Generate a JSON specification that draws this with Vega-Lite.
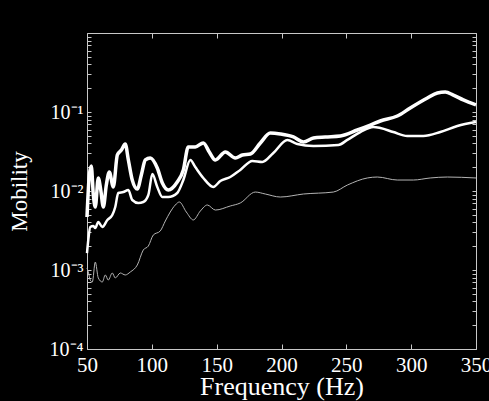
{
  "$schema": "https://vega.github.io/schema/vega-lite/v6.json",
  "width": 389,
  "height": 316,
  "autosize": "none",
  "padding": {"left": 87, "top": 33, "right": 13, "bottom": 52},
  "background": "black",
  "config": {
    "view": {"stroke": null},
    "font": "Liberation Serif",
    "axis": {
      "grid": false,
      "domainColor": "#c8c8c8",
      "tickColor": "#c8c8c8",
      "labelColor": "white",
      "labelFont": "Liberation Serif",
      "labelFontSize": 20,
      "titleColor": "white",
      "titleFont": "Liberation Serif",
      "titleFontSize": 23,
      "titleFontWeight": "normal"
    }
  },
  "datasets": {
    "mob": [
      {"f":50,"m":0.00469,"s":"A"},{"f":51.8,"m":0.01596,"s":"A"},{"f":53.3,"m":0.0207,"s":"A"},{"f":54.9,"m":0.00889,"s":"A"},{"f":56.4,"m":0.00627,"s":"A"},{"f":58.7,"m":0.01462,"s":"A"},{"f":60.6,"m":0.0103,"s":"A"},{"f":62.6,"m":0.00627,"s":"A"},{"f":64.9,"m":0.0119,"s":"A"},{"f":67.2,"m":0.01742,"s":"A"},{"f":70.3,"m":0.01125,"s":"A"},{"f":73.4,"m":0.0286,"s":"A"},{"f":76.5,"m":0.033,"s":"A"},{"f":79.5,"m":0.0394,"s":"A"},{"f":81.9,"m":0.0247,"s":"A"},{"f":84.9,"m":0.01377,"s":"A"},{"f":88.8,"m":0.01059,"s":"A"},{"f":91.9,"m":0.01596,"s":"A"},{"f":95,"m":0.0247,"s":"A"},{"f":98.8,"m":0.0262,"s":"A"},{"f":104.2,"m":0.01954,"s":"A"},{"f":108.1,"m":0.01262,"s":"A"},{"f":112.7,"m":0.0103,"s":"A"},{"f":119.6,"m":0.013,"s":"A"},{"f":124.3,"m":0.01845,"s":"A"},{"f":128.1,"m":0.0361,"s":"A"},{"f":133.5,"m":0.0361,"s":"A"},{"f":139.7,"m":0.0406,"s":"A"},{"f":144.3,"m":0.0312,"s":"A"},{"f":149,"m":0.0247,"s":"A"},{"f":156.7,"m":0.0312,"s":"A"},{"f":164.4,"m":0.0262,"s":"A"},{"f":169.8,"m":0.0286,"s":"A"},{"f":176,"m":0.0294,"s":"A"},{"f":183.7,"m":0.0406,"s":"A"},{"f":191.4,"m":0.0542,"s":"A"},{"f":199.1,"m":0.0527,"s":"A"},{"f":209.2,"m":0.0483,"s":"A"},{"f":216.9,"m":0.0417,"s":"A"},{"f":224.6,"m":0.0469,"s":"A"},{"f":233.8,"m":0.0483,"s":"A"},{"f":245.4,"m":0.0497,"s":"A"},{"f":258.5,"m":0.0592,"s":"A"},{"f":268.5,"m":0.0684,"s":"A"},{"f":276.2,"m":0.0769,"s":"A"},{"f":289.3,"m":0.0889,"s":"A"},{"f":299.3,"m":0.1125,"s":"A"},{"f":312.5,"m":0.1503,"s":"A"},{"f":320.2,"m":0.1742,"s":"A"},{"f":326.3,"m":0.179,"s":"A"},{"f":332.5,"m":0.164,"s":"A"},{"f":340.2,"m":0.142,"s":"A"},{"f":350,"m":0.1227,"s":"A"},
      {"f":50,"m":0.00164,"s":"B"},{"f":51,"m":0.0024,"s":"B"},{"f":52.5,"m":0.0035,"s":"B"},{"f":54.9,"m":0.00361,"s":"B"},{"f":56.4,"m":0.0034,"s":"B"},{"f":58.7,"m":0.00406,"s":"B"},{"f":61.8,"m":0.0035,"s":"B"},{"f":65.7,"m":0.0043,"s":"B"},{"f":69.5,"m":0.00497,"s":"B"},{"f":71.8,"m":0.00627,"s":"B"},{"f":74.1,"m":0.00944,"s":"B"},{"f":78,"m":0.0097,"s":"B"},{"f":81.9,"m":0.0103,"s":"B"},{"f":84.9,"m":0.00769,"s":"B"},{"f":89.6,"m":0.00705,"s":"B"},{"f":93.4,"m":0.00726,"s":"B"},{"f":97.3,"m":0.00889,"s":"B"},{"f":100.4,"m":0.0164,"s":"B"},{"f":104.2,"m":0.01125,"s":"B"},{"f":108.1,"m":0.00839,"s":"B"},{"f":112.7,"m":0.00839,"s":"B"},{"f":119.6,"m":0.00944,"s":"B"},{"f":124.3,"m":0.01377,"s":"B"},{"f":129.7,"m":0.0247,"s":"B"},{"f":133.5,"m":0.0201,"s":"B"},{"f":139.7,"m":0.01462,"s":"B"},{"f":147.4,"m":0.01125,"s":"B"},{"f":152.8,"m":0.0134,"s":"B"},{"f":160.5,"m":0.01503,"s":"B"},{"f":168.2,"m":0.01845,"s":"B"},{"f":177.5,"m":0.024,"s":"B"},{"f":185.2,"m":0.0233,"s":"B"},{"f":193.7,"m":0.0303,"s":"B"},{"f":204.5,"m":0.0443,"s":"B"},{"f":212.2,"m":0.0394,"s":"B"},{"f":224.6,"m":0.0372,"s":"B"},{"f":243.8,"m":0.0382,"s":"B"},{"f":250.8,"m":0.0443,"s":"B"},{"f":260.8,"m":0.0558,"s":"B"},{"f":270.8,"m":0.0646,"s":"B"},{"f":276.2,"m":0.0627,"s":"B"},{"f":286.2,"m":0.0558,"s":"B"},{"f":297,"m":0.0497,"s":"B"},{"f":309.4,"m":0.0497,"s":"B"},{"f":322.5,"m":0.0558,"s":"B"},{"f":335.6,"m":0.0665,"s":"B"},{"f":350,"m":0.0746,"s":"B"},
      {"f":50,"m":0.00106,"s":"C"},{"f":51,"m":0.000944,"s":"C"},{"f":52.5,"m":0.000746,"s":"C"},{"f":54.1,"m":0.000705,"s":"C"},{"f":56.4,"m":0.001262,"s":"C"},{"f":58.7,"m":0.000793,"s":"C"},{"f":61.8,"m":0.000705,"s":"C"},{"f":64.1,"m":0.000865,"s":"C"},{"f":66.4,"m":0.000746,"s":"C"},{"f":69.5,"m":0.000916,"s":"C"},{"f":71.8,"m":0.000793,"s":"C"},{"f":75.7,"m":0.000916,"s":"C"},{"f":79.5,"m":0.000865,"s":"C"},{"f":83.4,"m":0.000944,"s":"C"},{"f":88.8,"m":0.001156,"s":"C"},{"f":93.4,"m":0.00179,"s":"C"},{"f":97.3,"m":0.00201,"s":"C"},{"f":101.1,"m":0.00277,"s":"C"},{"f":106.5,"m":0.00312,"s":"C"},{"f":110.4,"m":0.00417,"s":"C"},{"f":114.2,"m":0.00542,"s":"C"},{"f":118.1,"m":0.00665,"s":"C"},{"f":121.2,"m":0.00726,"s":"C"},{"f":126.6,"m":0.00542,"s":"C"},{"f":132,"m":0.0043,"s":"C"},{"f":137.4,"m":0.00558,"s":"C"},{"f":142.8,"m":0.00665,"s":"C"},{"f":149,"m":0.00574,"s":"C"},{"f":160.5,"m":0.00646,"s":"C"},{"f":168.2,"m":0.00705,"s":"C"},{"f":179.8,"m":0.0097,"s":"C"},{"f":187.5,"m":0.00916,"s":"C"},{"f":199.1,"m":0.00839,"s":"C"},{"f":216.9,"m":0.00916,"s":"C"},{"f":240,"m":0.0097,"s":"C"},{"f":250.8,"m":0.0119,"s":"C"},{"f":266.2,"m":0.01462,"s":"C"},{"f":273.9,"m":0.01503,"s":"C"},{"f":289.3,"m":0.01377,"s":"C"},{"f":301.7,"m":0.01377,"s":"C"},{"f":314.7,"m":0.01462,"s":"C"},{"f":327.9,"m":0.01503,"s":"C"},{"f":350,"m":0.01462,"s":"C"}
    ]
  },
  "data": {"name": "mob"},
  "layer": [
    {
      "transform": [{"filter": "datum.s === 'A'"}],
      "mark": {"type": "line", "interpolate": "monotone", "color": "white", "strokeWidth": 3.5},
      "encoding": {
        "x": {"field": "f", "type": "quantitative",
          "scale": {"domain": [50, 350], "nice": false, "zero": false},
          "axis": {"values": [50,100,150,200,250,300,350], "tickSize": -5, "labelPadding": 10, "labelFlush": false,
            "labelFontSize": 21, "labelOverlap": false,
            "title": "Frequency (Hz)", "titleFontSize": 26, "titlePadding": -2}},
        "y": {"field": "m", "type": "quantitative",
          "scale": {"type": "log", "domain": [0.0001, 1], "nice": false},
          "axis": {"values": [0.0001,0.0002,0.0003,0.0004,0.0005,0.0006,0.0007,0.0008,0.0009,0.001,0.002,0.003,0.004,0.005,0.006,0.007,0.008,0.009,0.01,0.02,0.03,0.04,0.05,0.06,0.07,0.08,0.09,0.1,0.2,0.3,0.4,0.5,0.6,0.7,0.8,0.9,1],
            "labelExpr": "datum.value === 0.0001 ? '10\u207b\u2074' : datum.value === 0.001 ? '10\u207b\u00b3' : datum.value === 0.01 ? '10\u207b\u00b2' : datum.value === 0.1 ? '10\u207b\u00b9' : ''",
            "tickSize": -4, "labelPadding": 8, "labelFlush": false, "labelOverlap": false,
            "title": "Mobility", "titlePadding": 18}}
      }
    },
    {
      "transform": [{"filter": "datum.s === 'B'"}],
      "mark": {"type": "line", "interpolate": "monotone", "color": "white", "strokeWidth": 2.5},
      "encoding": {
        "x": {"field": "f", "type": "quantitative", "axis": null},
        "y": {"field": "m", "type": "quantitative", "axis": null}
      }
    },
    {
      "transform": [{"filter": "datum.s === 'C'"}],
      "mark": {"type": "line", "interpolate": "monotone", "color": "#b4b4b4", "strokeWidth": 1},
      "encoding": {
        "x": {"field": "f", "type": "quantitative", "axis": null},
        "y": {"field": "m", "type": "quantitative", "axis": null}
      }
    },
    {
      "transform": [{"filter": "datum.s === 'C'"}],
      "mark": {"type": "line", "opacity": 0},
      "encoding": {
        "x": {"field": "f", "type": "quantitative",
          "axis": {"orient": "top", "values": [50,100,150,200,250,300,350], "tickSize": -5, "labels": false, "title": null}},
        "y": {"field": "m", "type": "quantitative",
          "axis": {"orient": "right", "values": [0.0001,0.0002,0.0003,0.0004,0.0005,0.0006,0.0007,0.0008,0.0009,0.001,0.002,0.003,0.004,0.005,0.006,0.007,0.008,0.009,0.01,0.02,0.03,0.04,0.05,0.06,0.07,0.08,0.09,0.1,0.2,0.3,0.4,0.5,0.6,0.7,0.8,0.9,1],
            "tickSize": -4, "labels": false, "title": null}}
      }
    }
  ],
  "resolve": {"axis": {"x": "independent", "y": "independent"}}
}
